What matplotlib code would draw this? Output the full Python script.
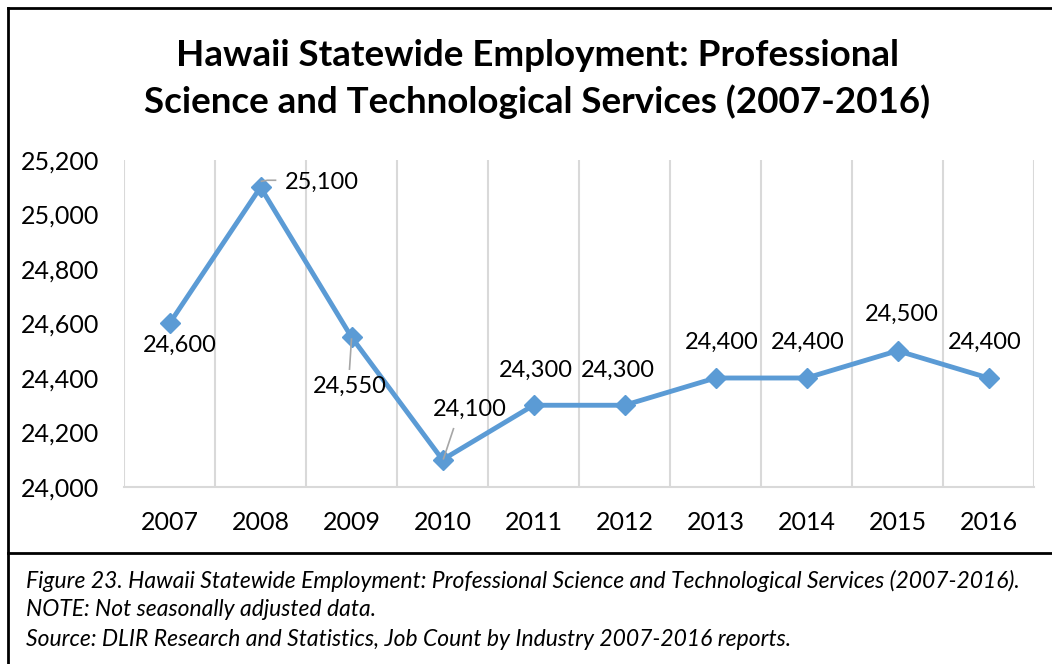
import matplotlib
matplotlib.use("Agg")
import matplotlib.pyplot as plt
from matplotlib.lines import Line2D

plt.rcParams['font.family'] = ['Lato', 'DejaVu Sans']

years = ['2007', '2008', '2009', '2010', '2011', '2012', '2013', '2014', '2015', '2016']
jobs = [24600, 25100, 24550, 24100, 24300, 24300, 24400, 24400, 24500, 24400]
yticks = [24000, 24200, 24400, 24600, 24800, 25000, 25200]

title = "Hawaii Statewide Employment: Professional\nScience and Technological Services (2007-2016)"
caption = [
    "Figure 23. Hawaii Statewide Employment: Professional Science and Technological Services (2007-2016).",
    "NOTE: Not seasonally adjusted data.",
    "Source: DLIR Research and Statistics, Job Count by Industry 2007-2016 reports.",
]

# label offsets in pixels (dx, dy)
offsets = [(10, -22), (61, 5), (-2, -49), (27, 50), (2, 35),
           (-7, 35), (6, 36), (1, 36), (4, 36), (-4, 36)]

W, H = 1052, 664
fig = plt.figure(figsize=(W / 100, H / 100), dpi=100)
ax = fig.add_axes([124 / W, 1 - 487 / H, 910 / W, 327 / H])

x = list(range(len(years)))
blue = '#5B9BD5'
ax.plot(x, jobs, color=blue, lw=3.5, marker='D', ms=10, zorder=3)

ax.set_xlim(-0.5, len(years) - 0.5)
ax.set_ylim(24000, 25200)
ax.set_yticks(yticks)
ax.set_yticklabels([f"{v:,}" for v in yticks], fontsize=18)
ax.set_xticks(x)
ax.set_xticklabels(years, fontsize=18)
ax.set_xticks([i + 0.5 for i in range(-1, len(years))], minor=True)
ax.tick_params(axis='both', which='both', length=0)
ax.tick_params(axis='x', pad=17)
ax.tick_params(axis='y', pad=18)
ax.grid(True, axis='x', which='minor', color='#D9D9D9', lw=1.5)
for s in ['top', 'right', 'left']:
    ax.spines[s].set_visible(False)
ax.spines['bottom'].set_color('#D9D9D9')
ax.spines['bottom'].set_linewidth(1.5)

for i, v in enumerate(jobs):
    dx, dy = offsets[i]
    ax.annotate(f"{v:,}", (i, v), xytext=(dx, dy), textcoords='offset pixels',
                ha='center', va='center', fontsize=17, color='black', zorder=4)

# leader lines, from the marker towards the label
lead = {1: [(1, 6), (7, 7), (15, 7)], 2: [(0, -2), (-2, -32)], 3: [(1, 1), (11, 31)]}
for i, pts in lead.items():
    p0 = ax.transData.transform((i, jobs[i]))
    xs = [(p0[0] + a) / W for a, b in pts]
    ys = [(p0[1] + b) / H for a, b in pts]
    fig.add_artist(Line2D(xs, ys, color='#A6A6A6', lw=1.2, zorder=2))

t1, t2 = title.split('\n')
fig.text(537 / W, 1 - 55 / H, t1, ha='center', va='center', fontsize=26.5, fontweight='bold')
fig.text(537 / W, 1 - 102 / H, t2, ha='center', va='center', fontsize=26.5, fontweight='bold')

for k, line in enumerate(caption):
    fig.text(26 / W, 1 - (581 + 29 * k) / H, line, ha='left', va='center',
             fontsize=16.5, style='italic')

# frame around chart and caption
fr = dict(color='black', lw=2)
fig.add_artist(Line2D([8 / W, 8 / W], [0, 1 - 8 / H], **fr))
fig.add_artist(Line2D([8 / W, 1], [1 - 8 / H, 1 - 8 / H], **fr))
fig.add_artist(Line2D([8 / W, 1], [1 - 553 / H, 1 - 553 / H], **fr))

fig.savefig('out.png', dpi=100)
